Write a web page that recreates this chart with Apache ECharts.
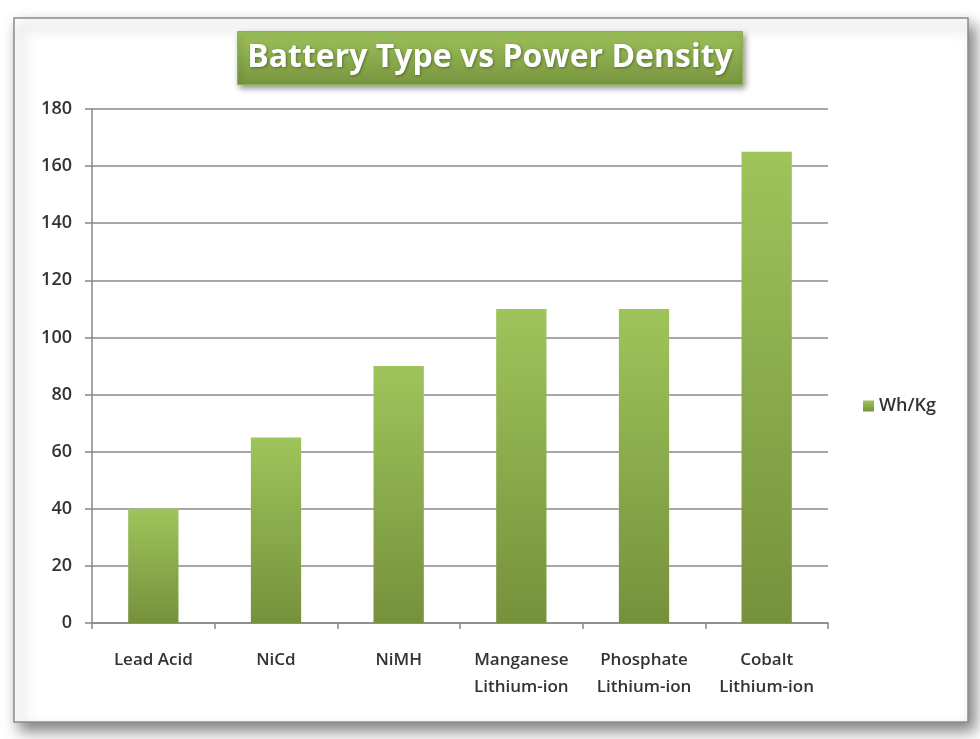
<!DOCTYPE html>
<html>
<head>
<meta charset="utf-8">
<script src="https://cdn.jsdelivr.net/npm/echarts@6/dist/echarts.min.js"></script>
<style>
html,body{margin:0;padding:0;background:#fff;}
#main{width:980px;height:739px;}
</style>
</head>
<body>
<div id="main"></div>
<script>
const categories = ['Lead Acid', 'NiCd', 'NiMH', 'Manganese\nLithium-ion', 'Phosphate\nLithium-ion', 'Cobalt\nLithium-ion'];
const seriesName = 'Wh/Kg';
const values = [40, 65, 90, 110, 110, 165];
const yTicks = { min: 0, max: 180, interval: 20 };
const titleText = 'Battery Type vs Power Density';

const chart = echarts.init(document.getElementById('main'), null, { renderer: 'canvas' });
const barGradient = new echarts.graphic.LinearGradient(0, 0, 0, 1, [
  { offset: 0, color: '#9EC45B' },
  { offset: 1, color: '#76913C' }
]);
const option = {
  backgroundColor: '#ffffff',
  animation: false,
  graphic: [
    {
      type: 'rect',
      z: -10,
      shape: { x: 14, y: 18, width: 954, height: 704 },
      style: {
        fill: '#ffffff',
        stroke: '#8a8a8a',
        lineWidth: 1.5,
        shadowBlur: 14,
        shadowColor: 'rgba(0,0,0,0.5)',
        shadowOffsetX: 6,
        shadowOffsetY: 8
      }
    }
  ],
  title: {
    text: titleText,
    left: 'center',
    top: 31,
    padding: [8, 10, 8, 10],
    backgroundColor: new echarts.graphic.LinearGradient(0, 0, 0, 1, [
      { offset: 0, color: '#9DC25A' },
      { offset: 1, color: '#78953F' }
    ]),
    borderColor: '#8fb052',
    borderWidth: 1,
    shadowBlur: 6,
    shadowColor: 'rgba(0,0,0,0.4)',
    shadowOffsetX: 2,
    shadowOffsetY: 3,
    textStyle: {
      color: '#ffffff',
      fontFamily: 'Open Sans',
      fontWeight: 'bold',
      fontSize: 32,
      lineHeight: 38,
      textShadowColor: 'rgba(0,0,0,0.35)',
      textShadowBlur: 3,
      textShadowOffsetX: 1,
      textShadowOffsetY: 1
    }
  },
  legend: {
    data: [seriesName],
    orient: 'vertical',
    left: 858,
    top: 392,
    itemWidth: 11,
    itemHeight: 11,
    itemGap: 5,
    icon: 'rect',
    textStyle: { fontFamily: 'Open Sans', fontSize: 18, fontWeight: 600, color: '#333' }
  },
  grid: { left: 92, right: 152, top: 109, bottom: 116, containLabel: false },
  xAxis: {
    type: 'category',
    data: categories,
    axisLine: { lineStyle: { color: '#888888', width: 1.5 } },
    axisTick: { show: true, length: 6, lineStyle: { color: '#888888', width: 1.5 } },
    axisLabel: {
      fontFamily: 'Open Sans',
      fontSize: 17,
      fontWeight: 600,
      color: '#333',
      margin: 24,
      lineHeight: 27,
      interval: 0
    }
  },
  yAxis: {
    type: 'value',
    min: yTicks.min,
    max: yTicks.max,
    interval: yTicks.interval,
    axisLine: { show: true, lineStyle: { color: '#888888', width: 1.5 } },
    axisTick: { show: true, length: 7, lineStyle: { color: '#888888', width: 1.5 } },
    splitLine: { lineStyle: { color: '#8a8a8a', width: 1.5 } },
    axisLabel: {
      fontFamily: 'Open Sans',
      fontSize: 18,
      fontWeight: 600,
      color: '#333',
      margin: 20
    }
  },
  series: [{
    name: seriesName,
    type: 'bar',
    data: values,
    barWidth: '41%',
    itemStyle: { color: barGradient },
    emphasis: { disabled: true }
  }]
};
chart.setOption(option);
</script>
</body>
</html>
